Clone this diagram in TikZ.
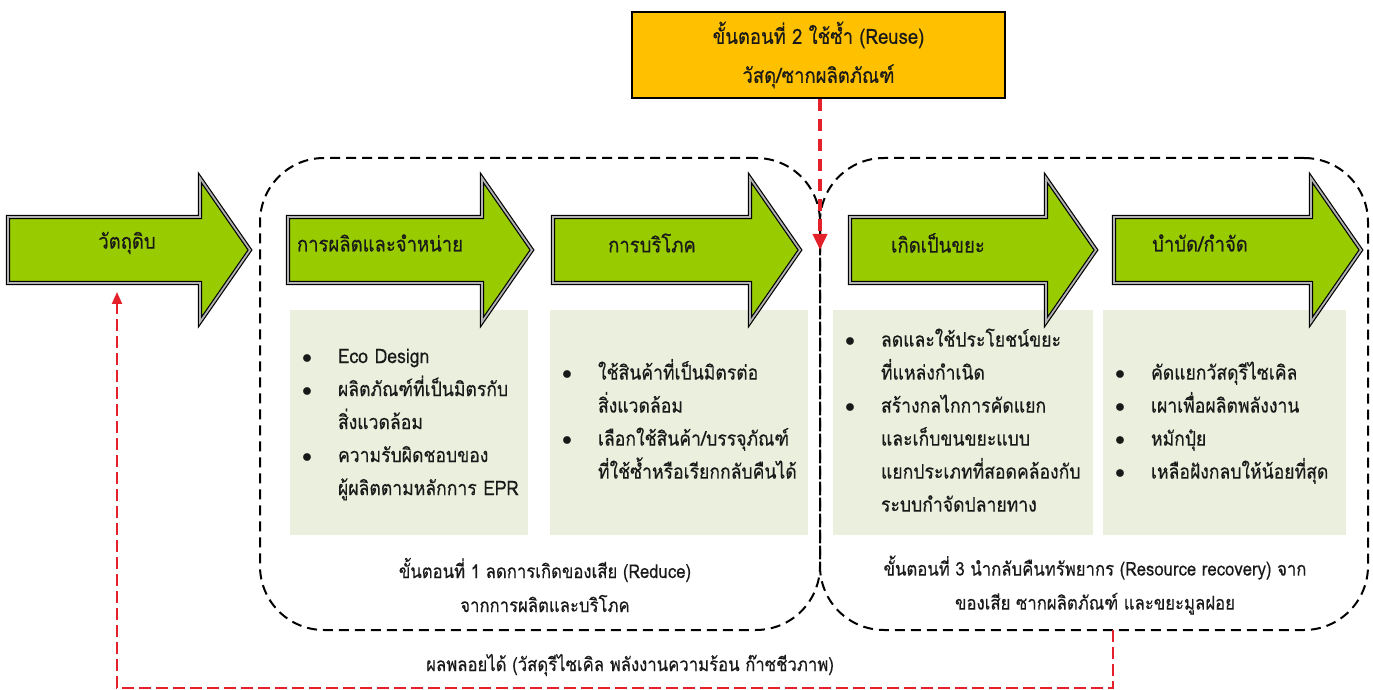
\documentclass[tikz,border=0pt]{standalone}
\usepackage{fontspec}
\setmainfont[Script=Thai,FakeStretch=0.88,FakeBold=0.4]{Loma}
\usetikzlibrary{arrows.meta}
\definecolor{agreen}{RGB}{153,204,0}
\definecolor{boxbg}{RGB}{235,240,222}
\definecolor{gold}{RGB}{255,192,0}
\definecolor{rline}{RGB}{228,32,42}
\definecolor{txt}{RGB}{25,25,25}
\begin{document}
\begin{tikzpicture}[x=0.5pt,y=-0.5pt,
  garrow/.style={fill=agreen, draw=black, line width=0.6pt, double=gray!60, double distance=0.9pt, line join=miter},
  alabel/.style={font=\fontsize{10.5}{13}\selectfont, text=txt, inner sep=0pt},
  stagebox/.style={draw=black, dashed, dash pattern=on 5pt off 3pt, line width=1pt, rounded corners=32pt, minimum height=236pt},
  listbox/.style={fill=boxbg, minimum height=112.5pt, inner xsep=6pt, inner ysep=0pt, align=left, font=\fontsize{10}{16.5}\selectfont, text=txt},
  caption/.style={font=\fontsize{9.5}{17}\selectfont, text=txt, align=center, inner sep=0pt},
  reuseline/.style={draw=rline, line width=1.8pt, dash pattern=on 6pt off 4pt},
  loopline/.style={draw=rline, line width=1pt, dash pattern=on 6pt off 2.5pt},
]
\useasboundingbox (0,0) rectangle (1373,690);
\newcommand\bl{$\bullet$}
% stage frames
\node[stagebox, minimum width=280pt] (stage1) at (540,394) {};
\node[stagebox, minimum width=274pt] (stage3) at (1094,394) {};
% list boxes
\node[listbox, text width=107pt] (b1) at (409,422.5) {%
\begin{tabular}{@{}l@{\hspace{13pt}}l@{}}
\bl & Eco Design\\
\bl & ผลิตภัณฑ์ที่เป็นมิตรกับ\\
    & สิ่งแวดล้อม\\
\bl & ความรับผิดชอบของ\\
    & ผู้ผลิตตามหลักการ EPR
\end{tabular}};
\node[listbox, text width=117pt] (b2) at (679,422.5) {%
\begin{tabular}{@{}l@{\hspace{13pt}}l@{}}
\bl & ใช้สินค้าที่เป็นมิตรต่อ\\
    & สิ่งแวดล้อม\\
\bl & เลือกใช้สินค้า/บรรจุภัณฑ์\\
    & ที่ใช้ซ้ำหรือเรียกกลับคืนได้
\end{tabular}};
\node[listbox, text width=118pt] (b3) at (963,422.5) {%
\begin{tabular}{@{}l@{\hspace{13pt}}l@{}}
\bl & ลดและใช้ประโยชน์ขยะ\\
    & ที่แหล่งกำเนิด\\
\bl & สร้างกลไกการคัดแยก\\
    & และเก็บขนขยะแบบ\\
    & แยกประเภทที่สอดคล้องกับ\\
    & ระบบกำจัดปลายทาง
\end{tabular}};
\node[listbox, text width=109.5pt] (b4) at (1224.5,422.5) {%
\begin{tabular}{@{}l@{\hspace{13pt}}l@{}}
\bl & คัดแยกวัสดุรีไซเคิล\\
\bl & เผาเพื่อผลิตพลังงาน\\
\bl & หมักปุ๋ย\\
\bl & เหลือฝังกลบให้น้อยที่สุด
\end{tabular}};
% green arrows
\draw[garrow] (8,217) -- (200,217) -- (200,178) -- (250,250) -- (200,322) -- (200,283) -- (8,283) -- cycle;
\node[alabel] (a1) at (127,243) {วัตถุดิบ};
\draw[garrow] (288,217) -- (482,217) -- (482,178) -- (532,250) -- (482,322) -- (482,283) -- (288,283) -- cycle;
\node[alabel] (a2) at (380,243) {การผลิตและจำหน่าย};
\draw[garrow] (553,217) -- (750,217) -- (750,178) -- (800,250) -- (750,322) -- (750,283) -- (553,283) -- cycle;
\node[alabel] (a3) at (652,243) {การบริโภค};
\draw[garrow] (850,217) -- (1046,217) -- (1046,178) -- (1096,250) -- (1046,322) -- (1046,283) -- (850,283) -- cycle;
\node[alabel] (a4) at (938,243) {เกิดเป็นขยะ};
\draw[garrow] (1114,217) -- (1311,217) -- (1311,178) -- (1361,250) -- (1311,322) -- (1311,283) -- (1114,283) -- cycle;
\node[alabel] (a5) at (1200,243) {บำบัด/กำจัด};
% reuse box
\node[fill=gold, draw=black, line width=1pt, minimum width=186.5pt, minimum height=43pt, align=center,
      font=\fontsize{10.5}{19.5}\selectfont, text=txt] (reuse) at (818.5,55)
  {ขั้นตอนที่ 2 ใช้ซ้ำ (Reuse)\\ วัสดุ/ซากผลิตภัณฑ์};
\coordinate (meet) at (820,250);
\draw[reuseline, -{Triangle[length=8pt,width=7pt]}] (reuse.south -| meet) -- (meet);
% captions
\node[caption] (c1) at (545,585) {ขั้นตอนที่ 1 ลดการเกิดของเสีย (Reduce)\\ จากการผลิตและบริโภค};
\node[caption] (c3) at (1095,585) {ขั้นตอนที่ 3 นำกลับคืนทรัพยากร (Resource recovery) จาก\\ ของเสีย ซากผลิตภัณฑ์ และขยะมูลฝอย};
% by-product loop
\coordinate (fbs) at (1113,630);
\coordinate (fbe) at (117,292);
\draw[loopline, -{Triangle[length=6pt,width=5pt]}] (fbs) -- (1113,688) -- (117,688) -- (fbe);
\node[caption] (fb) at (630,665) {ผลพลอยได้ (วัสดุรีไซเคิล พลังงานความร้อน ก๊าซชีวภาพ)};
\end{tikzpicture}
\end{document}
